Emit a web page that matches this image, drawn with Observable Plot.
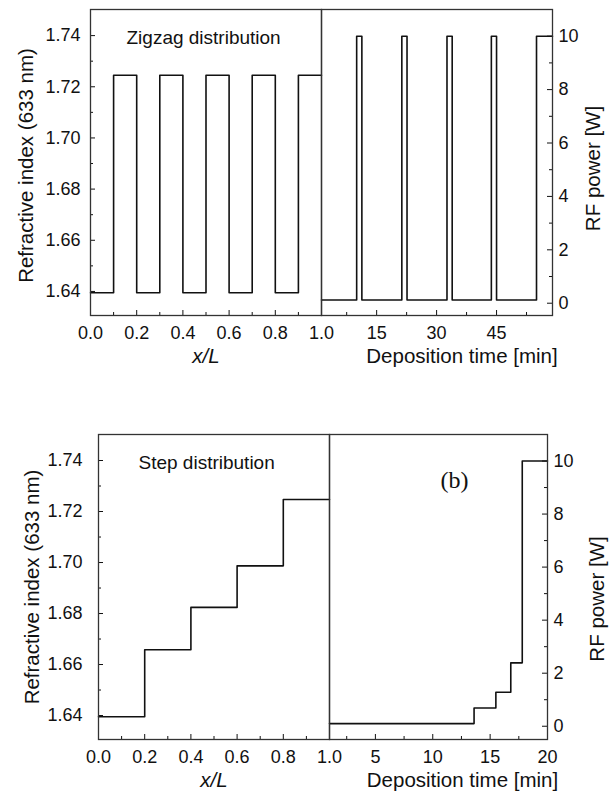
<!DOCTYPE html>
<html>
<head>
<meta charset="utf-8">
<script src="https://cdn.jsdelivr.net/npm/d3@7"></script>
<script src="https://cdn.jsdelivr.net/npm/@observablehq/plot@0.6"></script>
<style>
  html, body { margin: 0; padding: 0; background: #fff; }
  #wrap { position: relative; width: 613px; height: 791px; overflow: hidden; background: #fff; }
  #wrap svg { position: absolute; left: 0; overflow: visible; }
</style>
</head>
<body>
<div id="wrap"></div>
<script>
// ---------- data ----------
// (a) zigzag distribution: refractive index vs x/L (step-after breakpoints)
const zigzagX = [0.0, 0.1, 0.2, 0.3, 0.4, 0.5, 0.6, 0.7, 0.8, 0.9, 1.0];
const zigzagN = [1.6395, 1.7245, 1.6395, 1.7245, 1.6395, 1.7245, 1.6395, 1.7245, 1.6395, 1.7245, 1.7245];
// zigzag RF power program vs deposition time (min)
const zigzagT = [1.2, 10.0, 11.3, 21.3, 22.6, 32.6, 33.9, 43.7, 45.0, 55.0, 59.0];
const zigzagP = [0.12, 10, 0.12, 10, 0.12, 10, 0.12, 10, 0.12, 10, 10];

// (b) step distribution
const stepX = [0.0, 0.2, 0.4, 0.6, 0.8, 1.0];
const stepN = [1.6395, 1.6658, 1.6824, 1.6987, 1.7247, 1.7247];
const stepT = [1.0, 13.6, 15.5, 16.8, 17.8, 20.0];
const stepP = [0.1, 0.69, 1.28, 2.39, 10, 10];

// axis ticks
const nTicks = [1.64, 1.66, 1.68, 1.70, 1.72, 1.74];
const nMinor = [1.65, 1.67, 1.69, 1.71, 1.73];
const xlTicks = [0.0, 0.2, 0.4, 0.6, 0.8, 1.0];
const xlMinor = [0.1, 0.3, 0.5, 0.7, 0.9];
const pTicks = [0, 2, 4, 6, 8, 10];
const pMinor = [1, 3, 5, 7, 9];
const tTicksA = [15, 30, 45];
const tMinorA = [7.5, 22.5, 37.5, 52.5];
const tTicksB = [5, 10, 15, 20];
const tMinorB = [2.5, 7.5, 12.5, 17.5];

// texts
const labelN = "Refractive index (633 nm)";
const labelXL = "x/L";
const labelT = "Deposition time [min]";
const labelP = "RF power [W]";
const titleA = "Zigzag distribution";
const titleB = "Step distribution";
const tagB = "(b)";

// ---------- drawing ----------
const FONT = "Liberation Sans, Arial, Helvetica, sans-serif";
const wrap = document.getElementById("wrap");
const ink = "#111";

function inwardTicksX(vals, yv, len) {
  return Plot.ruleX(vals, {x: d => d, y1: () => yv, y2: () => yv, insetTop: -len, stroke: ink, strokeWidth: 1});
}
function inwardTicksYLeft(vals, xv, len) {
  return Plot.ruleY(vals, {y: d => d, x1: () => xv, x2: () => xv, insetRight: -len, stroke: ink, strokeWidth: 1});
}
function inwardTicksYRight(vals, xv, len) {
  return Plot.ruleY(vals, {y: d => d, x1: () => xv, x2: () => xv, insetLeft: -len, stroke: ink, strokeWidth: 1});
}

function leftPlot(o) {
  const svg = Plot.plot({
    width: 613, height: o.height,
    marginTop: o.mt, marginBottom: o.mb, marginLeft: o.ml, marginRight: o.mr,
    style: {fontFamily: FONT, fontSize: "18px", background: "transparent", overflow: "visible"},
    x: {domain: [0, 1]},
    y: {domain: [1.6306, 1.7502]},
    marks: [
      Plot.axisX(xlTicks, {tickSize: 0, tickPadding: o.xpad, tickFormat: d3.format(".1f"), fontSize: 18, label: null, fill: ink}),
      Plot.axisY(nTicks, {tickSize: 0, tickPadding: o.ypad, tickFormat: d3.format(".2f"), fontSize: 18, label: null, fill: ink}),
      inwardTicksX(xlTicks, 1.6306, 5),
      inwardTicksX(xlMinor, 1.6306, 3),
      inwardTicksYLeft(nTicks, 0, 5),
      inwardTicksYLeft(nMinor, 0, 3),
      Plot.line(o.xs.map((x, i) => ({x, n: o.ns[i]})), {x: "x", y: "n", curve: "step-after", stroke: ink, strokeWidth: 1.6}),
      Plot.frame({stroke: "#333", strokeWidth: 1.3}),
      Plot.text([labelN], {frameAnchor: "left", textAnchor: "middle", lineAnchor: "middle", dx: o.ylabX - o.ml, dy: o.ylabDy, rotate: -90, fontSize: 20.5, fill: ink}),
      Plot.text([labelXL], {frameAnchor: "bottom", textAnchor: "middle", lineAnchor: "middle", dy: o.xlabDy, fontSize: 20.5, fontStyle: "italic", fill: ink}),
      Plot.text([o.title], {frameAnchor: "top-left", dx: o.titleDx, dy: o.titleDy, textAnchor: "start", lineAnchor: "middle", fontSize: 19, fill: ink})
    ]
  });
  svg.style.top = o.top + "px";
  wrap.appendChild(svg);
}

function rightPlot(o) {
  const svg = Plot.plot({
    width: 613, height: o.height,
    marginTop: o.mt, marginBottom: o.mb, marginLeft: o.ml, marginRight: o.mr,
    style: {fontFamily: FONT, fontSize: "18px", background: "transparent", overflow: "visible"},
    x: {domain: o.tDomain},
    y: {domain: [o.pMin, 11]},
    marks: [
      Plot.axisX(o.tTicks, {tickSize: 0, tickPadding: o.xpad, fontSize: 18, label: null, fill: ink}),
      Plot.axisY(pTicks, {anchor: "right", tickSize: 0, tickPadding: o.ypad, fontSize: 18, label: null, fill: ink}),
      inwardTicksX(o.tTicks, o.pMin, 5),
      inwardTicksX(o.tMinor, o.pMin, 3),
      inwardTicksYRight(pTicks, o.tDomain[1], 5),
      inwardTicksYRight(pMinor, o.tDomain[1], 3),
      Plot.line(o.ts.map((t, i) => ({t, p: o.ps[i]})), {x: "t", y: "p", curve: "step-after", stroke: ink, strokeWidth: 1.6}),
      Plot.frame({stroke: "#333", strokeWidth: 1.3}),
      Plot.text([labelP], {frameAnchor: "right", textAnchor: "middle", lineAnchor: "middle", dx: o.plabX - (613 - o.mr), dy: o.plabDy, rotate: -90, fontSize: 20.5, fill: ink}),
      Plot.text([labelT], {frameAnchor: "bottom", textAnchor: "middle", lineAnchor: "middle", dx: o.tlabDx, dy: o.xlabDy, fontSize: 20.5, fill: ink}),
      ...(o.tag ? [Plot.text([o.tag], {frameAnchor: "top-left", textAnchor: "start", lineAnchor: "middle", dx: o.tagDx, dy: o.tagDy, fontFamily: "Liberation Serif, Times New Roman, serif", fontSize: 24, fill: ink})] : [])
    ]
  });
  svg.style.top = o.top + "px";
  wrap.appendChild(svg);
}

// top panel (a)
leftPlot({top: 0, height: 395, mt: 9, mb: 80, ml: 90, mr: 613 - 321, xpad: 11, ypad: 10,
  xs: zigzagX, ns: zigzagN, ylabX: 26, ylabDy: 3, xlabDy: 41, title: titleA, titleDx: 36, titleDy: 28});
rightPlot({top: 0, height: 395, mt: 9, mb: 80, ml: 321, mr: 613 - 552, xpad: 11, ypad: 6,
  tDomain: [1.2, 59], pMin: -0.46, tTicks: tTicksA, tMinor: tMinorA, ts: zigzagT, ps: zigzagP,
  plabX: 593, plabDy: 6, tlabDx: 25, xlabDy: 41});

// bottom panel (b)
leftPlot({top: 395, height: 396, mt: 39, mb: 52, ml: 98, mr: 613 - 329, xpad: 11, ypad: 16,
  xs: stepX, ns: stepN, ylabX: 32, ylabDy: 0, xlabDy: 41, title: titleB, titleDx: 40, titleDy: 28});
rightPlot({top: 395, height: 396, mt: 39, mb: 52, ml: 329, mr: 613 - 547, xpad: 11, ypad: 6,
  tDomain: [1.0, 20], pMin: -0.5, tTicks: tTicksB, tMinor: tMinorB, ts: stepT, ps: stepP,
  plabX: 597, plabDy: 12, tlabDx: 24, xlabDy: 41, tag: tagB, tagDx: 111, tagDy: 46});
</script>
</body>
</html>
